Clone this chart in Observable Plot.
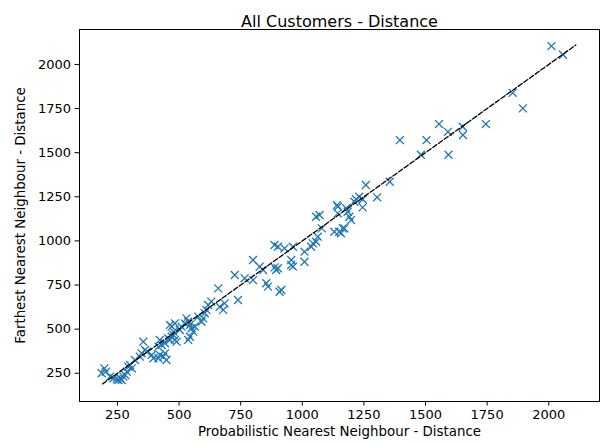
<!DOCTYPE html>
<html>
<head>
<meta charset="utf-8">
<script src="https://cdn.jsdelivr.net/npm/d3@7"></script>
<script src="https://cdn.jsdelivr.net/npm/@observablehq/plot@0.6"></script>
<style>
  html, body { margin: 0; padding: 0; background: #fff; }
</style>
</head>
<body>
<div id="chart"></div>
<script>
const title = "All Customers - Distance";
const xLabel = "Probabilistic Nearest Neighbour - Distance";
const yLabel = "Farthest Nearest Neighbour - Distance";
const tickValues = [250, 500, 750, 1000, 1250, 1500, 1750, 2000];

// Probabilistic NN distance (x) and Farthest NN distance (y)
const probNN = [
  186, 197, 203, 220, 234, 247, 261, 274, 281, 288, 294, 301, 308, 267, 254,
  321, 341, 348, 362, 369, 355, 389, 396, 416, 422, 436, 443, 449, 422, 429,
  416, 443, 456, 463, 470, 477, 483, 490, 477, 470, 463, 483, 503, 510, 523,
  530, 537, 544, 551, 537, 544, 557, 564, 591, 598, 578, 604, 611, 618, 631,
  665, 679, 685, 739,
  659, 726, 766, 800, 827, 841, 800, 894, 888, 901, 887, 928, 901, 955, 955,
  962, 1009, 962, 1009, 854, 861, 915, 908, 1036, 1043, 1056, 1063, 1056, 1070,
  1079, 1130, 1144, 1141, 1144, 1178, 1184, 1191, 1198, 1157, 1171, 1150, 1164,
  1211, 1218, 1231, 1245, 1245,
  1258, 1355, 1304, 1396, 1504, 1481, 1593, 1555, 1591, 1651, 1652, 1745, 1854,
  1895, 2011, 2058
];
const farNN = [
  250, 278, 259, 231, 222, 216, 222, 231, 240, 259, 287, 297, 278, 212, 212,
  325, 344, 363, 382, 372, 429, 354, 335, 335, 354, 344, 363, 325, 439, 410,
  401, 420, 448, 439, 457, 467, 439, 429, 486, 514, 524, 533, 495, 514, 533,
  561, 542, 524, 505, 439, 457, 486, 514, 542, 561, 571, 590, 609, 637, 656,
  627, 609, 646, 665,
  731, 807, 788, 892, 854, 835, 778, 835, 850, 845, 977, 958, 967, 892, 863,
  854, 882, 967, 939, 760, 741, 722, 712, 967, 986, 995, 1024, 1137, 1147,
  1071, 1052, 1194, 1203, 1156, 1185, 1165, 1137, 1118, 1043, 1071, 1052, 1071,
  1222, 1236, 1250, 1236, 1190,
  1317, 1335, 1247, 1571, 1571, 1488, 1488, 1662, 1618, 1647, 1600, 1662, 1839,
  1751, 2104, 2055
];
// y = x reference line endpoints
const refLine = [190, 2110];

const points = probNN.map((x, i) => ({x, y: farNN[i]}));
const line = refLine.map(v => ({x: v, y: v}));

const chart = Plot.plot({
  width: 606,
  height: 445,
  marginLeft: 79,
  marginRight: 7,
  marginTop: 29,
  marginBottom: 44,
  style: {fontFamily: "DejaVu Sans", fontSize: "13px", color: "#000", background: "#fff"},
  x: {domain: [96, 2206], label: null},
  y: {domain: [90, 2198], label: null},
  marks: [
    Plot.axisX({ticks: tickValues, tickFormat: d3.format("d"), tickSize: 4.5, tickPadding: 4, label: null, stroke: "#000", fill: "#000", fontSize: "13px"}),
    Plot.axisY({ticks: tickValues, tickFormat: d3.format("d"), tickSize: 4.5, tickPadding: 4, label: null, stroke: "#000", fill: "#000", fontSize: "13px"}),
    Plot.dot(points, {x: "x", y: "y", symbol: "times", r: 3.7, stroke: "#1f77b4", strokeWidth: 1.3}),
    Plot.line(line, {x: "x", y: "y", stroke: "#000", strokeWidth: 1.3, strokeDasharray: "4.9,2.1"}),
    Plot.frame({stroke: "#000", strokeWidth: 1}),
    Plot.text([title], {frameAnchor: "top", dy: -14, fontSize: "16px", fill: "#000"}),
    Plot.text([xLabel], {frameAnchor: "bottom", dy: 34, fontSize: "13.4px", fill: "#000"}),
    Plot.text([yLabel], {frameAnchor: "left", dx: -59, rotate: -90, textAnchor: "middle", fontSize: "13.4px", fill: "#000"})
  ]
});
document.getElementById("chart").appendChild(chart);
</script>
</body>
</html>
